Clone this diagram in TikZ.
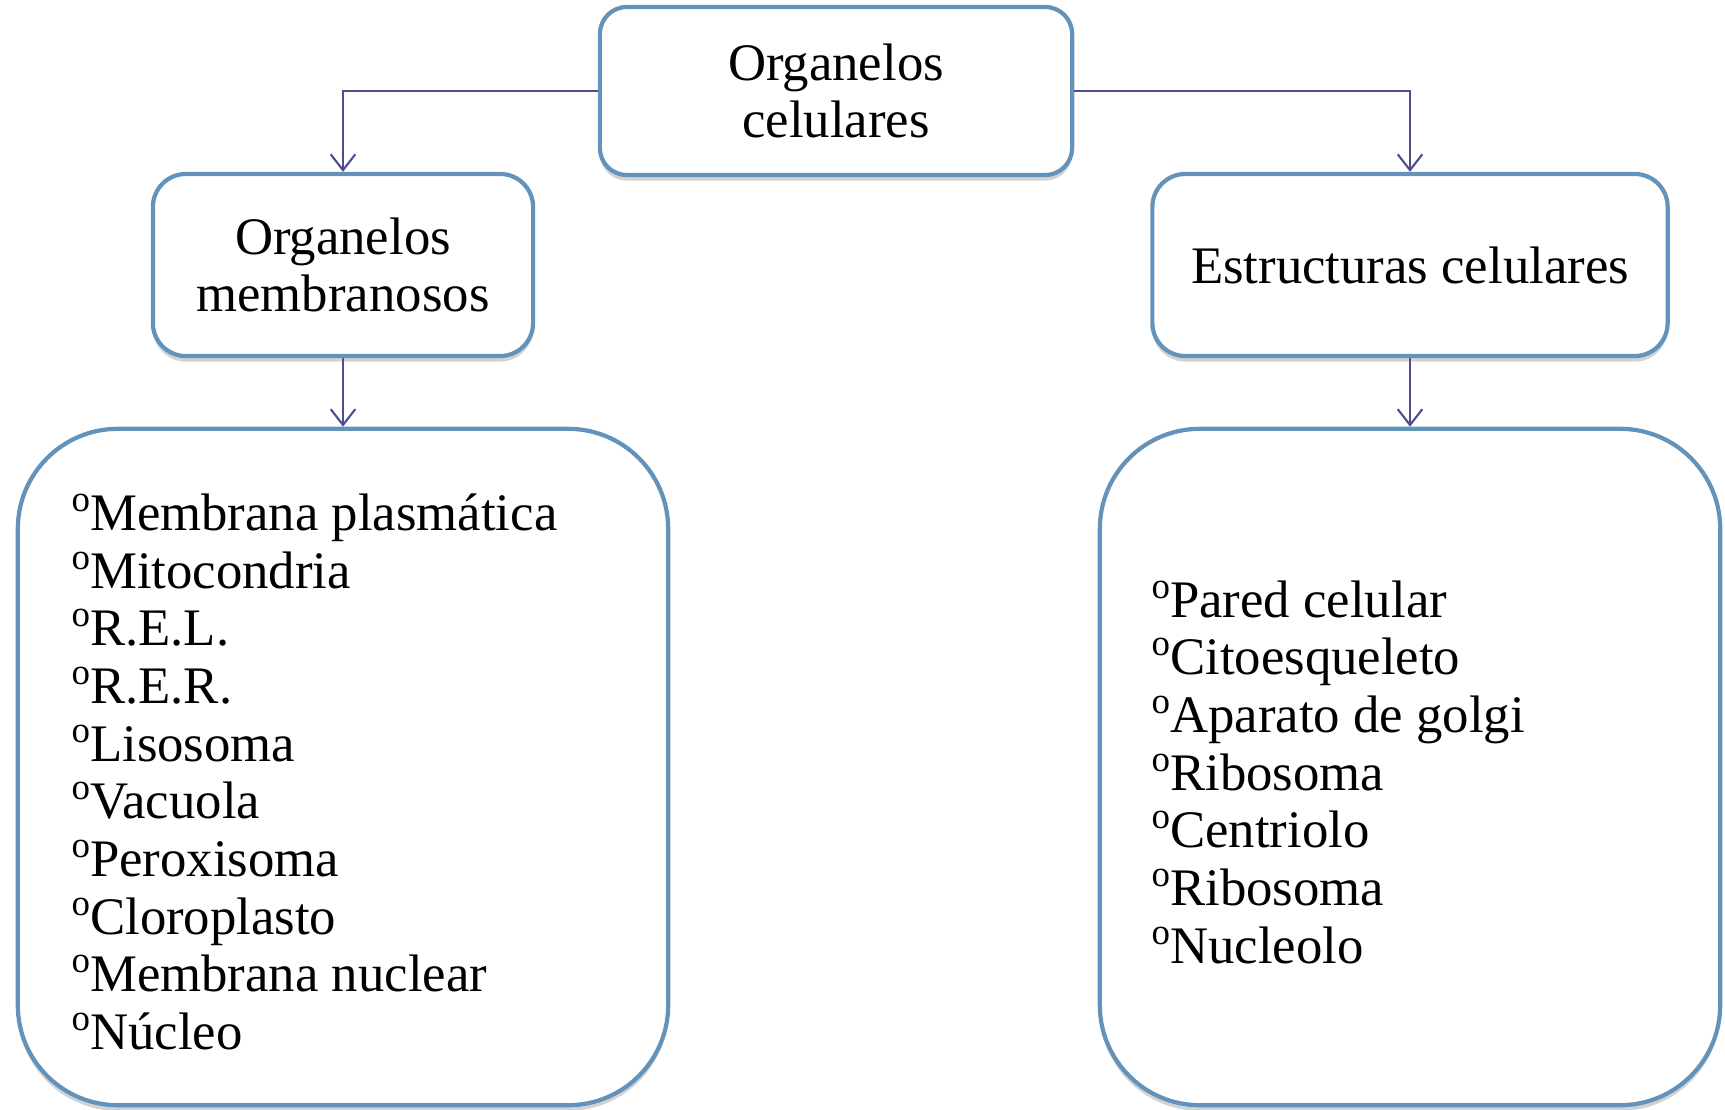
\documentclass[tikz,border=0pt]{standalone}
\usepackage{fontspec}
\setmainfont{Liberation Serif}
\usetikzlibrary{arrows.meta,shadows}
\definecolor{boxblue}{HTML}{6393BA}
\definecolor{arrowcol}{HTML}{4E4E8E}
\newcommand\ordmark{\raisebox{0.36em}{\fontsize{10.5}{10.5}\selectfont o}}
\tikzset{
  box/.style={draw=boxblue, line width=1.2pt, fill=white, inner sep=0pt,
    drop shadow={shadow xshift=0pt, shadow yshift=-1.6pt, opacity=0.35}},
  boxtext/.style={font=\fontsize{15}{16.4}\selectfont, align=center},
  listtext/.style={font=\fontsize{15}{16.4}\selectfont, align=left, anchor=west, inner sep=0pt},
  conn/.style={draw=arrowcol, line width=0.6pt, -{Straight Barb[length=4.5pt,width=7pt]}}
}
\begin{document}
\begin{tikzpicture}[x=0.01cm,y=-0.01cm]
\useasboundingbox (0,0) rectangle (1725,1109);
% top box
\node[box, rounded corners=0.27cm, minimum width=4.72cm, minimum height=1.68cm, boxtext] (top) at (836,91) {Organelos\\celulares};
% middle boxes
\node[box, rounded corners=0.33cm, minimum width=3.80cm, minimum height=1.82cm, boxtext] (mleft) at (343,265) {Organelos\\membranosos};
\node[box, rounded corners=0.33cm, minimum width=5.15cm, minimum height=1.82cm, boxtext] (mright) at (1410,265) {Estructuras celulares};
% bottom boxes
\node[box, rounded corners=1.0cm, minimum width=6.50cm, minimum height=6.76cm] (bleft) at (343,767) {};
\node[box, rounded corners=1.0cm, minimum width=6.20cm, minimum height=6.76cm] (bright) at (1410,767) {};
% list texts
\node[listtext] (lleft) at (71,772) {\ordmark Membrana plasmática\\\ordmark Mitocondria\\\ordmark R.E.L.\\\ordmark R.E.R.\\\ordmark Lisosoma\\\ordmark Vacuola\\\ordmark Peroxisoma\\\ordmark Cloroplasto\\\ordmark Membrana nuclear\\\ordmark Núcleo};
\node[listtext] (lright) at (1151,772) {\ordmark Pared celular\\\ordmark Citoesqueleto\\\ordmark Aparato de golgi\\\ordmark Ribosoma\\\ordmark Centriolo\\\ordmark Ribosoma\\\ordmark Nucleolo};
% connectors
\draw[conn] (top.west) -| (mleft.north);
\draw[conn] (top.east) -| (mright.north);
\draw[conn] (mleft.south) -- (bleft.north);
\draw[conn] (mright.south) -- (bright.north);
\end{tikzpicture}
\end{document}
